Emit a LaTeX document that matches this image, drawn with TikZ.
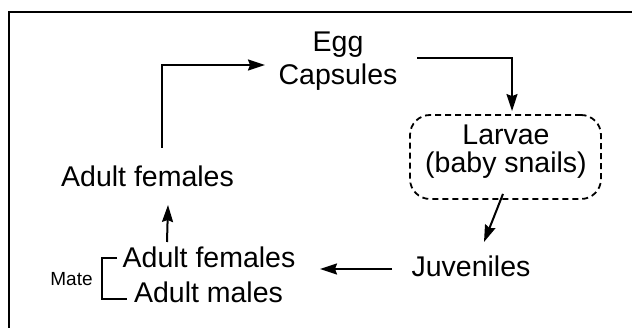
\documentclass[tikz,border=0pt]{standalone}
\usepackage{fontspec}
\setmainfont{Liberation Sans}
\usetikzlibrary{arrows.meta,calc}
\begin{document}
\begin{tikzpicture}[x=1pt,y=-1pt,
  lbl/.style={inner sep=0pt,font=\fontsize{28.5}{33}\selectfont},
  small/.style={inner sep=0pt,font=\fontsize{19}{21}\selectfont},
  conn/.style={line width=2pt},
  arr/.style={conn,-{Stealth[length=17pt,width=11pt,inset=2pt]}},
  dashbox/.style={draw,line width=1.8pt,dash pattern=on 6pt off 4pt,rounded corners=20pt}]
\useasboundingbox (0,0) rectangle (632,328);
\begin{scope}
\clip (0,0) rectangle (632,328);
\node[draw,line width=2.2pt,minimum width=700pt,minimum height=400pt,anchor=north west,inner sep=0pt] (frame) at (7.5,11) {};
\end{scope}
% texts
\node[lbl,anchor=base] (egg) at (338,52) {Egg};
\node[lbl,anchor=base] (caps) at (338,85) {Capsules};
\node[dashbox,minimum width=191pt,minimum height=84pt] (box) at (505.5,157) {};
\node[lbl,anchor=base] (larvae) at (506,145) {Larvae};
\node[lbl,anchor=base] (baby) at (506,173) {(baby snails)};
\node[lbl,anchor=base] (juv) at (471,277) {Juveniles};
\node[lbl,anchor=base] (af1) at (147.5,187) {Adult females};
\node[lbl,anchor=base] (af2) at (209,268) {Adult females};
\node[lbl,anchor=base] (am) at (208.5,303) {Adult males};
\node[small,anchor=base] (mate) at (71.5,286) {Mate};
% bracket
\draw[conn] ($(af2.base)+(-92,-10)$) -- ($(af2.base)+(-107,-10)$) -- ($(am.base)+(-106.5,-4)$) -- ($(am.base)+(-81.5,-4)$);
% connectors
\draw[arr] ($(af1.base)+(14.5,-39)$) |- ($(caps.base)+(-73,-20)$);
\draw[arr] ($(caps.base)+(79,-27)$) -| ($(box.north)+(6.5,-3)$);
\draw[arr] ($(box.south)+(-2.5,-6)$) -- ($(juv.base)+(13,-35)$);
\draw[arr] ($(juv.base)+(-79,-8)$) -- ($(af2.base)+(111,1)$);
\draw[arr] ($(af2.base)+(-42,-26)$) -- ($(af1.base)+(20.5,18)$);
\end{tikzpicture}
\end{document}
